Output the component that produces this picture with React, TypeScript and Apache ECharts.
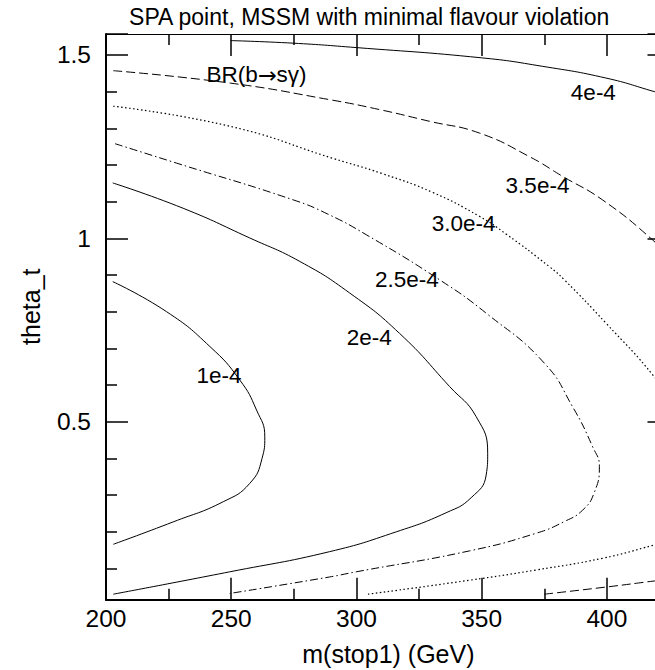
import React, { useEffect, useRef } from 'react';
import * as echarts from 'echarts';

const TITLE = 'SPA point, MSSM with minimal flavour violation';
const X_NAME = 'm(stop1) (GeV)';
const Y_NAME = 'theta_t';
const X_MIN = 200;
const X_MAX = 425;
const Y_MIN = 0.015;
const Y_MAX = 1.557;
const xTickLabels = [200, 250, 300, 350, 400];
const yTickLabels = [0.5, 1, 1.5];

// BR(b->s gamma) contours, [m(stop1), theta_t]
const c4e4 = [[249.8, 1.539], [274.7, 1.532], [299.9, 1.52], [350.0, 1.492], [374.2, 1.469], [399.6, 1.437], [418.9, 1.4], [425, 1.387]];
const c35e4Upper = [[202.9, 1.457], [249.8, 1.423], [289.3, 1.378], [309.2, 1.351], [329.2, 1.319], [349.1, 1.287], [369.0, 1.223], [382.3, 1.169], [398.2, 1.105], [418.2, 0.996], [424.7, 0.947]];
const c35e4Lower = [[375.0, 0.03], [400.3, 0.05], [418.9, 0.066], [425, 0.071]];
const c30e4Upper = [[202.9, 1.36], [249.8, 1.305], [290.6, 1.218], [310.5, 1.176], [330.5, 1.125], [349.1, 1.06], [359.7, 1.012], [377.0, 0.923], [383.0, 0.887], [399.6, 0.769], [418.9, 0.623], [424.7, 0.559]];
const c30e4Lower = [[304.6, 0.03], [345.1, 0.068], [371.7, 0.096], [398.3, 0.128], [418.9, 0.164], [425, 0.176]];
const c25e4 = [[203.6, 1.258], [228.2, 1.205], [274.7, 1.105], [288.6, 1.066], [303.9, 1.01], [333.2, 0.887], [351.8, 0.796], [375.0, 0.66], [386.3, 0.541], [394.3, 0.432], [397.0, 0.378], [394.9, 0.306], [390.3, 0.259], [383.0, 0.228], [371.7, 0.196], [345.1, 0.148], [299.9, 0.091], [289.3, 0.077], [249.4, 0.032]];
const c2e4 = [[202.7, 1.151], [230.8, 1.082], [257.4, 1.001], [277.4, 0.937], [297.3, 0.851], [317.2, 0.741], [337.2, 0.596], [347.8, 0.514], [352.4, 0.414], [351.8, 0.355], [345.8, 0.293], [335.8, 0.252], [315.9, 0.2], [289.3, 0.146], [249.4, 0.091], [202.9, 0.03]];
const c1e4 = [[202.7, 0.882], [224.2, 0.8], [241.5, 0.705], [253.4, 0.614], [260.1, 0.532], [263.4, 0.459], [262.3, 0.4], [257.4, 0.332], [246.8, 0.282], [226.8, 0.227], [202.9, 0.166]];

const contourLabels = [
  { name: 'BR(b{a|\u2192}s\u03b3)', value: [260.1, 1.446] },
  { name: '4e-4', value: [394.6, 1.398] },
  { name: '3.5e-4', value: [372.3, 1.143] },
  { name: '3.0e-4', value: [342.8, 1.04] },
  { name: '2.5e-4', value: [320.1, 0.887] },
  { name: '2e-4', value: [305.1, 0.731] },
  { name: '1e-4', value: [245.1, 0.627] },
];

const FONT = 'Liberation Sans, Arial, Helvetica, sans-serif';

function lineSeries(data: number[][], type: any, width = 1) {
  return {
    type: 'line',
    data,
    showSymbol: false,
    symbol: 'none',
    smooth: 0.5,
    silent: true,
    lineStyle: { color: '#000', width, type, opacity: 1 },
  };
}

export default function App() {
  const ref = useRef<HTMLDivElement>(null);
  useEffect(() => {
    if (!ref.current) return;
    const chart = echarts.init(ref.current, undefined, { renderer: 'svg' });
    const DASH = [9, 4];
    const DOT = [1.5, 2.5];
    const DASHDOT = [8, 3, 1.5, 3];
    chart.setOption({
      animation: false,
      backgroundColor: '#fff',
      grid: { left: 106, right: 10.5, top: 34, bottom: 70.3, containLabel: false },
      xAxis: [
        {
          type: 'value',
          min: X_MIN,
          max: X_MAX,
          position: 'bottom',
          splitLine: { show: false },
          axisLine: { show: true, lineStyle: { color: '#000', width: 2 } },
          axisTick: { show: true, inside: true, length: 22, lineStyle: { color: '#000', width: 1.5 } },
          minorTick: { show: true, splitNumber: 2, length: 11, lineStyle: { color: '#000', width: 1.5 } },
          axisLabel: {
            show: true,
            showMinLabel: true,
            showMaxLabel: false,
            margin: 6,
            fontSize: 24.5,
            fontFamily: FONT,
            color: '#000',
            formatter: (v: number) => (xTickLabels.includes(v) ? String(v) : ''),
          },
        },
        {
          type: 'value',
          min: X_MIN,
          max: X_MAX,
          position: 'top',
          splitLine: { show: false },
          axisLine: { show: true, lineStyle: { color: '#000', width: 1 } },
          axisTick: { show: true, inside: true, length: 22, lineStyle: { color: '#000', width: 1.5 } },
          minorTick: { show: true, splitNumber: 2, length: 11, lineStyle: { color: '#000', width: 1.5 } },
          axisLabel: { show: false },
        },
      ],
      yAxis: [
        {
          type: 'value',
          min: Y_MIN,
          max: Y_MAX,
          splitNumber: 3,
          position: 'left',
          splitLine: { show: false },
          axisLine: { show: true, lineStyle: { color: '#000', width: 2 } },
          axisTick: { show: true, inside: true, length: 22, lineStyle: { color: '#000', width: 1.5 } },
          minorTick: { show: true, splitNumber: 5, length: 11, lineStyle: { color: '#000', width: 1.5 } },
          axisLabel: {
            show: true,
            showMinLabel: false,
            showMaxLabel: false,
            margin: 15,
            fontSize: 24.5,
            fontFamily: FONT,
            color: '#000',
            formatter: (v: number) => (yTickLabels.some((t) => Math.abs(t - v) < 1e-6) ? String(v) : ''),
          },
        },
        {
          type: 'value',
          min: Y_MIN,
          max: Y_MAX,
          splitNumber: 3,
          position: 'right',
          splitLine: { show: false },
          axisLine: { show: true, lineStyle: { color: '#000', width: 1 } },
          axisTick: { show: true, inside: true, length: 22, lineStyle: { color: '#000', width: 1.5 } },
          minorTick: { show: true, splitNumber: 5, length: 11, lineStyle: { color: '#000', width: 1.5 } },
          axisLabel: { show: false },
        },
      ],
      graphic: [
        {
          type: 'text',
          x: 369.2,
          y: 17,
          style: { text: TITLE, fontSize: 23, fontFamily: FONT, fill: '#000', align: 'center', verticalAlign: 'middle' },
        },
        {
          type: 'text',
          x: 388.4,
          y: 654,
          style: { text: X_NAME, fontSize: 25, fontFamily: FONT, fill: '#000', align: 'center', verticalAlign: 'middle' },
        },
        {
          type: 'text',
          x: 30.8,
          y: 306.7,
          rotation: Math.PI / 2,
          style: { text: Y_NAME, fontSize: 25, fontFamily: FONT, fill: '#000', align: 'center', verticalAlign: 'middle' },
        },
      ],
      series: [
        lineSeries(c4e4, 'solid'),
        lineSeries(c35e4Upper, DASH),
        lineSeries(c35e4Lower, DASH),
        lineSeries(c30e4Upper, DOT, 1.2),
        lineSeries(c30e4Lower, DOT, 1.2),
        lineSeries(c25e4, DASHDOT),
        lineSeries(c2e4, 'solid'),
        lineSeries(c1e4, 'solid'),
        {
          type: 'scatter',
          data: contourLabels,
          symbolSize: 1,
          silent: true,
          z: 5,
          itemStyle: { color: 'transparent', opacity: 1 },
          label: {
            show: true,
            position: 'inside',
            formatter: '{b}',
            fontSize: 22.5,
            fontFamily: FONT,
            color: '#000',
            opacity: 1,
            textBorderWidth: 0,
            rich: {
              a: { fontSize: 22.5, fontFamily: 'DejaVu Sans, sans-serif', color: '#000', textBorderWidth: 0 },
            },
          },
        },
      ],
    });
    return () => chart.dispose();
  }, []);
  return (
    <div style={{ position: 'fixed', left: 0, top: 0, width: 655, height: 670, overflow: 'hidden', background: '#fff' }}>
      <div ref={ref} style={{ width: 680, height: 670 }} />
    </div>
  );
}
